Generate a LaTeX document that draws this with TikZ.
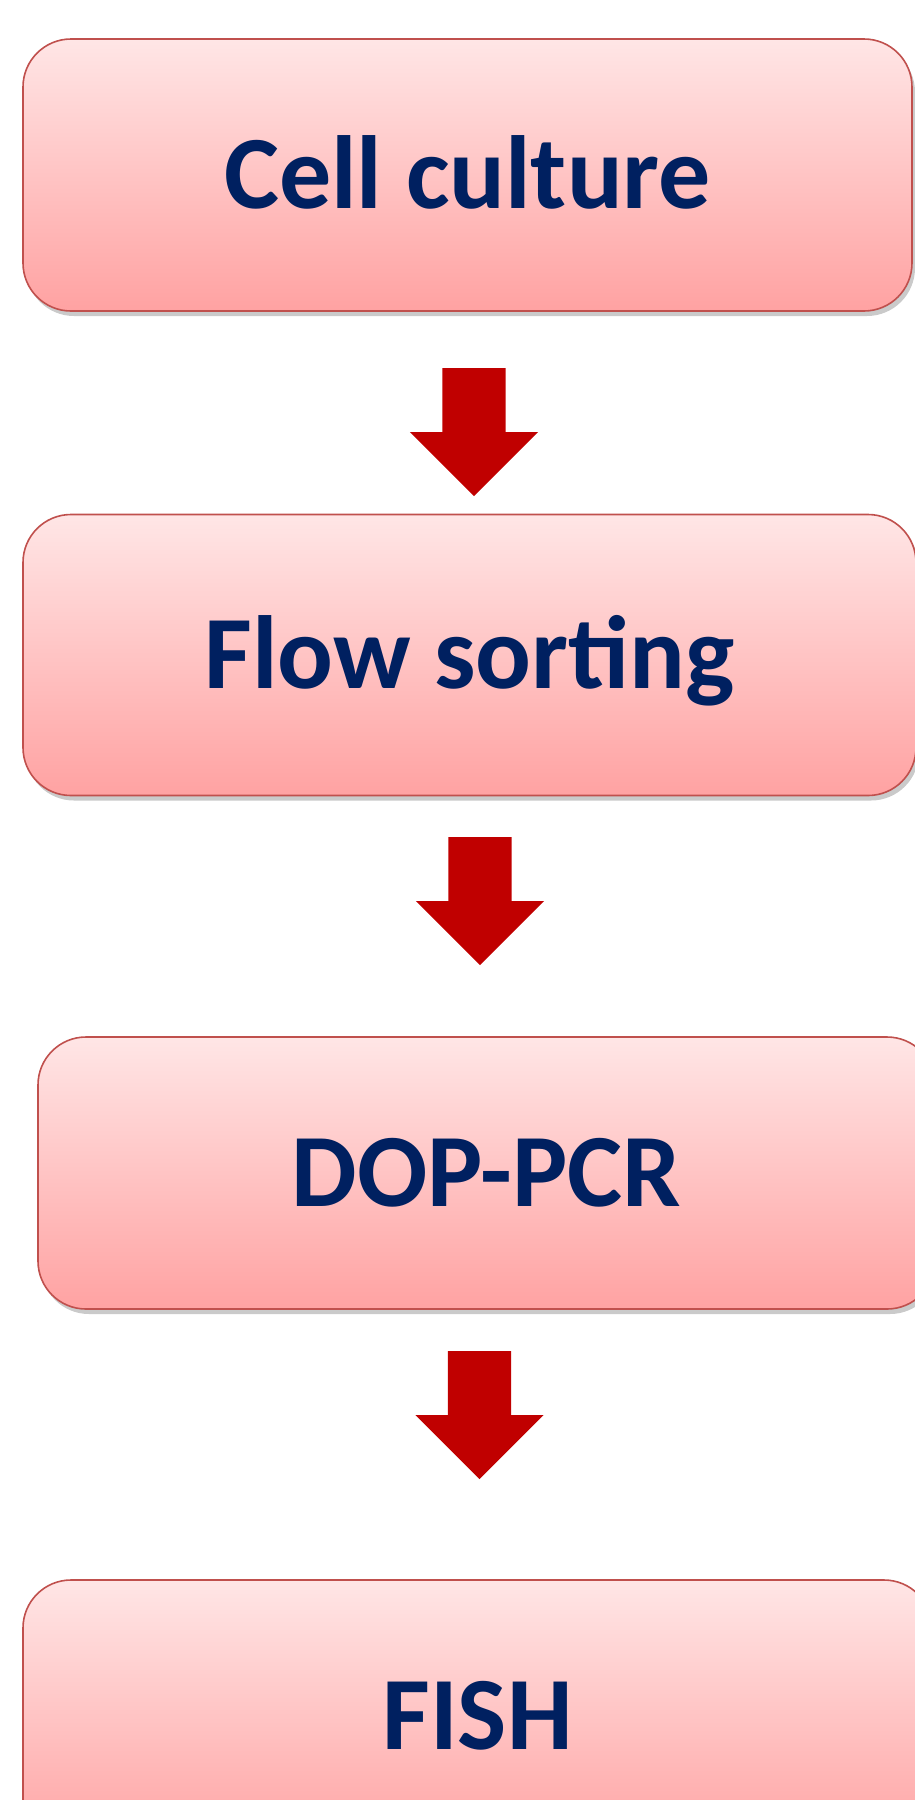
\documentclass[tikz,border=0pt]{standalone}
\usepackage{fontspec}
\setmainfont{Carlito}
\usetikzlibrary{shapes.arrows,shadows}

\definecolor{boxtop}{HTML}{FFE6E6}
\definecolor{boxbot}{HTML}{FFA2A2}
\definecolor{boxline}{HTML}{C0504D}
\definecolor{navy}{HTML}{002060}
\definecolor{arrred}{HTML}{C00000}

\begin{document}
\begin{tikzpicture}[x=1pt,y=-1pt,
    stepbox/.style={rectangle, rounded corners=48pt, draw=boxline, line width=1.6pt,
        top color=boxtop, bottom color=boxbot,
        drop shadow={shadow xshift=3pt, shadow yshift=-5pt, opacity=0.35, fill=black!60},
        text=navy, font=\fontsize{104}{115}\selectfont\bfseries,
        text height=66pt, text depth=0pt, inner sep=0pt},
    downarrow/.style={single arrow, fill=arrred, rotate=-90, anchor=tail,
        minimum height=128pt, minimum width=128pt,
        single arrow head extend=32.5pt, inner xsep=0pt, inner ysep=31.5pt}]

    \useasboundingbox (0,0) rectangle (914,1800);

    \node[stepbox, minimum width=889pt, minimum height=272pt] (cult) at (467.5,175) {Cell culture};
    \node[stepbox, minimum width=893pt, minimum height=281pt] (sort) at (469.5,655) {Flow sorting};
    \node[stepbox, minimum width=897pt, minimum height=272pt] (pcr) at (486.5,1173) {DOP-PCR};
    \node[stepbox, minimum width=909pt, minimum height=272pt] (fish) at (477.5,1716) {FISH};

    \node[downarrow] (ar1) at (474,368) {};
    \node[downarrow] (ar2) at (480,837) {};
    \node[downarrow] (ar3) at (479.5,1351) {};

\end{tikzpicture}
\end{document}
